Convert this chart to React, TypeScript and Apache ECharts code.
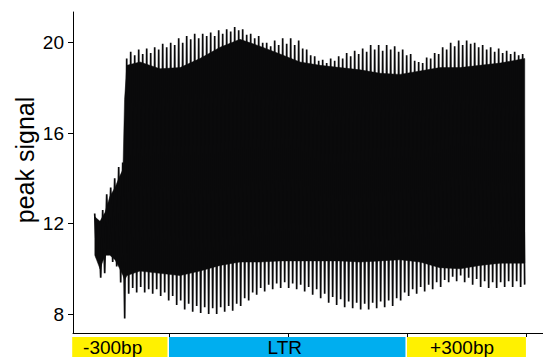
import React, { useEffect, useRef } from 'react';
import * as echarts from 'echarts';

// ---- axes ----
const X_MIN = -242;
const X_MAX = 943;
const Y_MIN = 7.16;
const Y_MAX = 21.36;
const xTicks = [0, 300, 600, 900];
const yTicks = [8, 12, 16, 20];

// ---- signal: one peak and one trough per ~10 bp step ----
const FIRST_POS = -187.3;
const STEP = 10.084;

const peakValues = [
  12.45, 12.0, 12.6, 13.3, 13.6, 14.0, 14.5, 14.7,
  19.3, 19.6, 19.45, 19.7, 19.5, 19.75, 19.55, 19.8, 19.7, 19.95,
  19.8, 20.0, 19.9, 20.2, 20.0, 20.3, 20.15, 20.4, 20.2, 20.4,
  20.3, 20.45, 20.3, 20.55, 20.4, 20.6, 20.5, 20.7, 20.55, 20.6,
  20.35, 20.4, 20.2, 20.3, 20.0, 20.0, 19.85, 20.1, 19.9, 20.2,
  19.95, 20.2, 19.9, 20.1, 19.75, 19.7, 19.45, 19.4, 19.2, 19.25,
  19.1, 19.3, 19.2, 19.4, 19.3, 19.55, 19.4, 19.65, 19.5, 19.75,
  19.6, 19.9, 19.7, 19.9, 19.65, 19.9, 19.7, 19.85, 19.6, 19.7,
  19.45, 19.5, 19.2, 19.15, 19.1, 19.35, 19.3, 19.55, 19.5, 19.8,
  19.7, 20.0, 19.85, 20.1, 19.9, 20.1, 19.95, 20.0, 19.8, 19.9,
  19.7, 19.8, 19.6, 19.75, 19.55, 19.65, 19.5, 19.6, 19.45, 19.5,
];

const troughValues = [
  10.5, 9.6, 9.8, 10.9, 10.3, 10.1, 9.4, 7.8,
  8.9, 9.15, 8.95, 9.2, 8.95, 9.1, 8.9, 9.1, 8.8, 8.95,
  8.6, 8.8, 8.4, 8.6, 8.2, 8.45, 8.1, 8.35, 8.05, 8.3,
  8.0, 8.25, 8.0, 8.3, 8.1, 8.35, 8.15, 8.45, 8.35, 8.7,
  8.6, 8.95, 8.85, 9.15, 9.0, 9.3, 9.1, 9.35, 9.15, 9.4,
  9.15, 9.35, 9.1, 9.3, 9.0, 9.2, 8.85, 9.1, 8.7, 8.9,
  8.5, 8.75, 8.4, 8.65, 8.3, 8.55, 8.25, 8.5, 8.2, 8.45,
  8.2, 8.5, 8.25, 8.55, 8.3, 8.6, 8.35, 8.7, 8.6, 8.95,
  8.8, 9.1, 8.9, 9.2, 9.0, 9.3, 9.1, 9.4, 9.2, 9.5,
  9.4, 9.65, 9.45, 9.7, 9.4, 9.6, 9.3, 9.55, 9.2, 9.45,
  9.15, 9.4, 9.15, 9.4, 9.2, 9.45, 9.2, 9.45, 9.2, 9.3,
];

// ---- dense core of the signal (where the trace is solid) ----
const bandPos = [-187, -174, -161, -149, -136, -124, -116, -112, -106, -73, -23, 28, 78, 129, 179, 229, 280, 330, 381, 431, 482, 532, 582, 633, 683, 734, 784, 835, 897];
const bandTop = [12.3, 12.1, 12.5, 13.2, 13.6, 14.1, 14.4, 17.5, 19.0, 19.15, 18.85, 18.9, 19.3, 19.8, 20.15, 19.85, 19.5, 19.15, 19.0, 18.9, 18.8, 18.65, 18.6, 18.75, 18.9, 18.9, 19.0, 19.1, 19.3];
const bandBottom = [10.6, 10.0, 10.6, 10.6, 10.4, 10.0, 9.7, 9.5, 9.7, 9.9, 9.8, 9.7, 9.9, 10.15, 10.3, 10.3, 10.35, 10.35, 10.35, 10.35, 10.3, 10.35, 10.4, 10.3, 10.05, 10.0, 10.15, 10.25, 10.25];

// ---- region annotation ----
const regionNames = ['-300bp', 'LTR', '+300bp'];
const regionStart = [-244, 0, 600];
const regionEnd = [0, 600, 900];
const regionLabelAt = [-142, 292, 739];
const regionColors = ['#FFF100', '#00AEEF', '#FFF100'];

const FONT = '"Liberation Sans", Arial, Helvetica, sans-serif';
const INK = '#0a0a0b';

export default function App() {
  const ref = useRef<HTMLDivElement>(null);

  useEffect(() => {
    if (!ref.current) return;
    const chart = echarts.init(ref.current, undefined, { renderer: 'svg' });

    const lineData: number[][] = [];
    peakValues.forEach((p, k) => {
      const pos = FIRST_POS + k * STEP;
      lineData.push([pos, p]);
      lineData.push([pos + STEP / 2, troughValues[k]]);
    });

    const regions = regionNames.map((_, i) => [regionStart[i], regionEnd[i], regionLabelAt[i]]);

    chart.setOption({
      animation: false,
      backgroundColor: '#ffffff',
      grid: [
        { left: 73, top: 12, width: 470, height: 321 },
        { left: 73, top: 337, width: 470, height: 20 },
      ],
      xAxis: [
        {
          type: 'value',
          gridIndex: 0,
          min: X_MIN,
          max: X_MAX,
          axisLine: { show: true, onZero: false, lineStyle: { color: '#000', width: 1 } },
          axisTick: { show: true, length: 4, customValues: xTicks, lineStyle: { color: '#000', width: 1 } },
          axisLabel: { show: false },
          splitLine: { show: false },
        },
        { type: 'value', gridIndex: 1, min: X_MIN, max: X_MAX, show: false },
      ],
      yAxis: [
        {
          type: 'value',
          gridIndex: 0,
          min: Y_MIN,
          max: Y_MAX,
          axisLine: { show: true, onZero: false, lineStyle: { color: '#000', width: 1 } },
          axisTick: { show: true, length: 5, customValues: yTicks, lineStyle: { color: '#000', width: 1 } },
          axisLabel: { show: true, customValues: yTicks, fontSize: 19, color: '#000', margin: 9, fontFamily: FONT },
          splitLine: { show: false },
        },
        { type: 'value', gridIndex: 1, min: 0, max: 1, show: false },
      ],
      series: [
        {
          type: 'custom',
          xAxisIndex: 0,
          yAxisIndex: 0,
          data: [[bandPos[0], bandTop[0]]],
          silent: true,
          renderItem: (_params: any, api: any) => {
            const upper = bandPos.map((x, i) => api.coord([x, bandTop[i]]));
            const lower = bandPos.map((x, i) => api.coord([x, bandBottom[i]])).reverse();
            return {
              type: 'polygon',
              shape: { points: upper.concat(lower) },
              style: { fill: INK, stroke: INK, lineWidth: 0.5 },
            };
          },
        },
        {
          type: 'line',
          data: lineData,
          symbol: 'none',
          lineStyle: { width: 1.7, color: INK },
          silent: true,
        },
        {
          type: 'custom',
          xAxisIndex: 1,
          yAxisIndex: 1,
          data: regions,
          silent: true,
          renderItem: (params: any, api: any) => {
            const i = params.dataIndex;
            const p0 = api.coord([api.value(0), 1]);
            const p1 = api.coord([api.value(1), 0]);
            const pl = api.coord([api.value(2), 0.5]);
            const gap = i < regionNames.length - 1 ? 1.5 : 0;
            return {
              type: 'group',
              children: [
                {
                  type: 'rect',
                  shape: { x: p0[0], y: p0[1], width: p1[0] - p0[0] - gap, height: p1[1] - p0[1] },
                  style: { fill: regionColors[i] },
                },
                {
                  type: 'text',
                  x: pl[0],
                  y: pl[1] + 0.5,
                  style: {
                    text: regionNames[i],
                    fontSize: 19,
                    fontFamily: FONT,
                    fill: '#000',
                    align: 'center',
                    verticalAlign: 'middle',
                    textAlign: 'center',
                    textVerticalAlign: 'middle',
                  },
                },
              ],
            };
          },
        },
      ],
      graphic: [
        {
          type: 'text',
          x: 25,
          y: 160,
          rotation: Math.PI / 2,
          style: {
            text: 'peak signal',
            fontSize: 25,
            fontFamily: FONT,
            fill: '#000',
            align: 'center',
            verticalAlign: 'middle',
            textAlign: 'center',
            textVerticalAlign: 'middle',
          },
        },
      ],
    });

    return () => chart.dispose();
  }, []);

  return (
    <div
      ref={ref}
      style={{ position: 'absolute', left: 0, top: 0, width: 543, height: 357, background: '#fff' }}
    />
  );
}
